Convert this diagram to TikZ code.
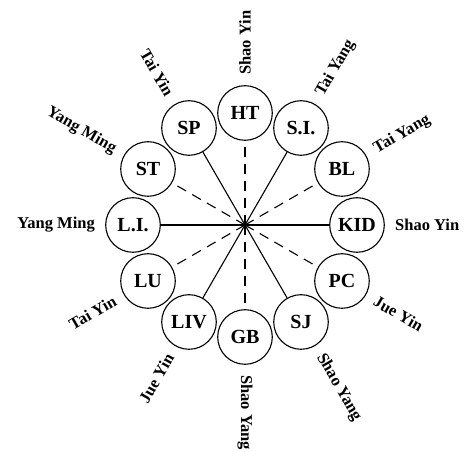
\documentclass[tikz,border=0pt]{standalone}
\usepackage{fontspec}
\setmainfont{Liberation Serif}
\begin{document}
\begin{tikzpicture}[x=1pt,y=1pt,
  organ/.style={circle,draw,line width=1.1pt,minimum size=54.6pt,inner sep=0pt,font=\bfseries\fontsize{20}{20}\selectfont},
  chan/.style={font=\bfseries\fontsize{16.5}{16.5}\selectfont,inner sep=0pt},
  solidln/.style={line width=1.1pt},
  dashln/.style={line width=1.1pt,dash pattern=on 10pt off 7pt}]
\useasboundingbox (0,0) rectangle (464,452);
\coordinate (c) at (245,227);
% organ circles
\node[organ] (ht)  at ([shift={(90:112)}]c)   {HT};
\node[organ] (si)  at ([shift={(60:112)}]c)   {S.I.};
\node[organ] (bl)  at ([shift={(30:112)}]c)   {BL};
\node[organ] (kid) at ([shift={(0:112)}]c)    {KID};
\node[organ] (pc)  at ([shift={(-30:112)}]c)  {PC};
\node[organ] (sj)  at ([shift={(-60:112)}]c)  {SJ};
\node[organ] (gb)  at ([shift={(-90:112)}]c)  {GB};
\node[organ] (liv) at ([shift={(-120:112)}]c) {LIV};
\node[organ] (lu)  at ([shift={(-150:112)}]c) {LU};
\node[organ] (li)  at ([shift={(180:112)}]c)  {L.I.};
\node[organ] (st)  at ([shift={(150:112)}]c)  {ST};
\node[organ] (sp)  at ([shift={(120:112)}]c)  {SP};
% connectors
\draw[dashln]  (c) -- (ht);
\draw[solidln] (c) -- (si);
\draw[dashln]  (c) -- (bl);
\draw[solidln] (c) -- (kid);
\draw[dashln]  (c) -- (pc);
\draw[solidln] (c) -- (sj);
\draw[dashln]  (c) -- (gb);
\draw[solidln] (c) -- (liv);
\draw[dashln]  (c) -- (lu);
\draw[solidln] (c) -- (li);
\draw[dashln]  (c) -- (st);
\draw[solidln] (c) -- (sp);
% channel labels
\node[chan,anchor=west,rotate=90]  (t1)  at ([shift={(90:150)}]c)   {Shao Yin};
\node[chan,anchor=west,rotate=60]  (t2)  at ([shift={(60:150)}]c)   {Tai Yang};
\node[chan,anchor=west,rotate=30]  (t3)  at ([shift={(30:150)}]c)   {Tai Yang};
\node[chan,anchor=west,rotate=0]   (t4)  at ([shift={(0:150)}]c)    {Shao Yin};
\node[chan,anchor=west,rotate=-30] (t5)  at ([shift={(-30:150)}]c)  {Jue Yin};
\node[chan,anchor=west,rotate=-60] (t6)  at ([shift={(-60:150)}]c)  {Shao Yang};
\node[chan,anchor=west,rotate=-90] (t7)  at ([shift={(-90:150)}]c)  {Shao Yang};
\node[chan,anchor=east,rotate=60]  (t8)  at ([shift={(-120:150)}]c) {Jue Yin};
\node[chan,anchor=east,rotate=30]  (t9)  at ([shift={(-150:150)}]c) {Tai Yin};
\node[chan,anchor=east,rotate=0]   (t10) at ([shift={(180:150)}]c)  {Yang Ming};
\node[chan,anchor=east,rotate=-30] (t11) at ([shift={(150:150)}]c)  {Yang Ming};
\node[chan,anchor=east,rotate=-60] (t12) at ([shift={(120:150)}]c)  {Tai Yin};
\end{tikzpicture}
\end{document}
